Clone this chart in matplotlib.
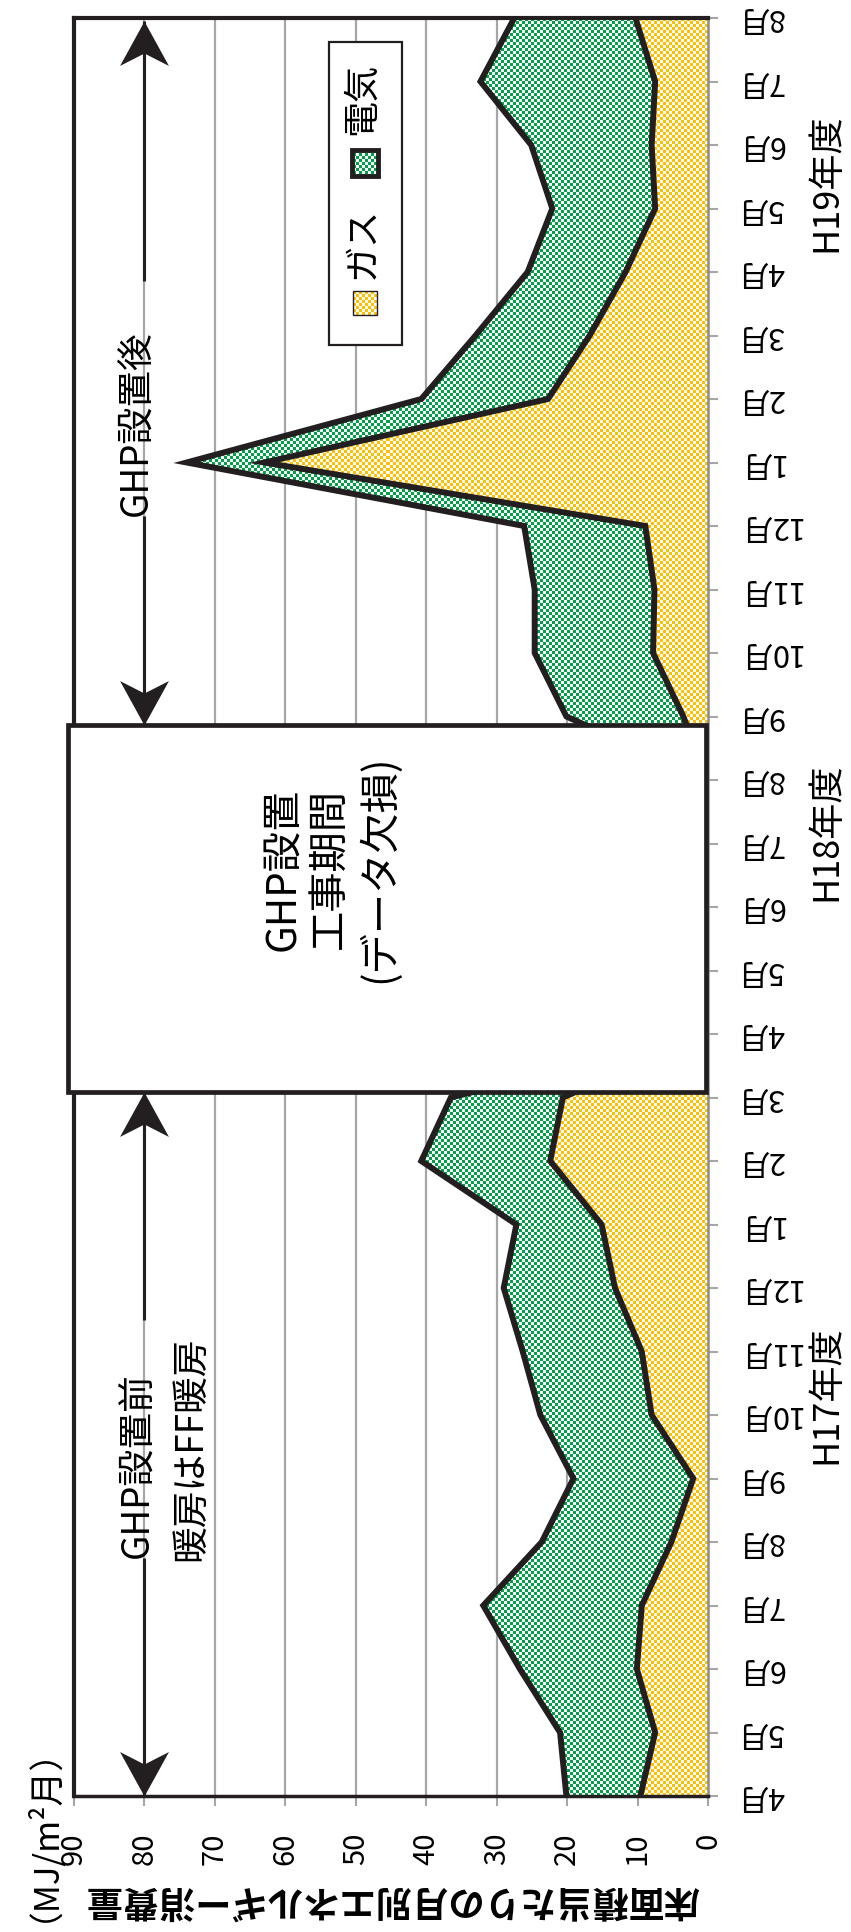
import numpy as np
import matplotlib
matplotlib.use('Agg')
import matplotlib.pyplot as plt
from matplotlib.colors import to_rgb
from matplotlib.patches import Rectangle
from matplotlib.path import Path

plt.rcParams['font.family'] = ['Noto Sans CJK JP', 'DejaVu Sans']

# monthly energy use per floor area (MJ/m2 month), H17 Apr .. H19 Aug
months = ['4月', '5月', '6月', '7月', '8月', '9月', '10月', '11月', '12月', '1月', '2月', '3月',
          '4月', '5月', '6月', '7月', '8月', '9月', '10月', '11月', '12月', '1月', '2月', '3月',
          '4月', '5月', '6月', '7月', '8月']
# H18 Apr-Aug: construction period, no data (None)
gas = [9.6, 7.5, 10.1, 9.4, 5.2, 2.1, 8.0, 9.4, 13.2, 15.1, 22.4, 20.6,
       None, None, None, None, None, 3.5, 7.8, 7.6, 8.9, 63.0, 22.7, 16.8,
       11.7, 7.5, 8.0, 7.5, 10.3]
elec = [10.5, 13.5, 16.6, 22.5, 18.4, 17.0, 15.8, 16.9, 15.8, 12.1, 18.3, 15.9,
        None, None, None, None, None, 16.6, 16.8, 17.0, 17.2, 11.0, 18.0, 16.2,
        13.9, 14.6, 17.1, 24.8, 17.2]
value_ticks = [0, 10, 20, 30, 40, 50, 60, 70, 80, 90]
year_labels = ['H17年度', 'H18年度', 'H19年度']
series_names = ['ガス', '電気']
green = '#00A046'
yellow = '#FFBE00'
dark = '#231F20'
grey = '#A6A6A6'

W, H = 851, 1932
fig = plt.figure(figsize=(W / 100, H / 100), dpi=100)
ax = fig.add_axes([74 / W, 1 - 1796 / H, (708 - 74) / W, (1796 - 18) / H])

idx = np.arange(len(months))
g = np.array([0 if v is None else v for v in gas])
e = np.array([0 if v is None else v for v in elec])
total = g + e


def checker(color, clip, transform=None):
    ny, nx = 593, 211
    jj, ii = np.meshgrid(np.arange(nx), np.arange(ny))
    rgb = np.ones((ny, nx, 3))
    rgb[(ii + jj) % 2 == 0] = to_rgb(color)
    im = ax.imshow(rgb, extent=(0, 90, 0, 28), origin='lower', aspect='auto',
                   interpolation='nearest', zorder=2)
    if transform is None:
        im.set_clip_path(clip)
    else:
        im.set_clip_path(clip, transform)
    return im


gas_area = ax.fill_betweenx(idx, 0, g, facecolor='none', edgecolor='none')
elec_area = ax.fill_betweenx(idx, g, total, facecolor='none', edgecolor='none')
checker(yellow, gas_area.get_paths()[0], ax.transData)
checker(green, elec_area.get_paths()[0], ax.transData)
ax.plot(g, idx, color=dark, lw=4.3, zorder=3, solid_joinstyle='miter')
ax.plot(total, idx, color=dark, lw=4.3, zorder=3, solid_joinstyle='miter')

ax.set_xlim(90, 0)
ax.set_ylim(0, len(months) - 1)
ax.set_xticks(value_ticks)
ax.set_xticklabels([str(v) for v in value_ticks])
ax.yaxis.tick_right()
ax.set_yticks(idx)
ax.set_yticklabels(months)
ax.grid(axis='x', color=grey, lw=1.6)
ax.set_axisbelow(True)
ax.tick_params(axis='x', direction='out', length=7.5, width=1.5, color=grey,
               labelsize=21, labelrotation=90, pad=19)
ax.tick_params(axis='y', direction='out', length=7.5, width=1.5, color=grey,
               labelsize=22, labelrotation=180, pad=13)
for t in ax.get_yticklabels():
    t.set_va('center')
for s in ['left', 'top']:
    ax.spines[s].set_color(dark)
    ax.spines[s].set_linewidth(3)
ax.spines['bottom'].set_color(dark)
ax.spines['bottom'].set_linewidth(2.5)
ax.spines['right'].set_color('#8C8C8C')
ax.spines['right'].set_linewidth(1.8)

# construction period box
ax.add_patch(Rectangle((0.3, 11.09), 90.6, 5.78, facecolor='white', edgecolor=dark,
                       lw=3.4, zorder=5, clip_on=False))
ax.text(53.5, 14.6, 'GHP設置\n工事期間\n(データ欠損)', rotation=90, ha='center', va='center',
        fontsize=29, linespacing=1.22, zorder=6)

# notched (stealth) arrow heads, tip at the marker point
head_up = Path([(0, 0), (-0.55, -1), (0, -0.72), (0.55, -1), (0, 0)],
               [Path.MOVETO, Path.LINETO, Path.LINETO, Path.LINETO, Path.CLOSEPOLY])
head_down = Path([(0, 0), (-0.55, 1), (0, 0.72), (0.55, 1), (0, 0)],
                 [Path.MOVETO, Path.LINETO, Path.LINETO, Path.LINETO, Path.CLOSEPOLY])


def arrow(y0, y1):
    ax.plot([80, 80], [y0, y1], color=dark, lw=2.2, zorder=4, clip_on=False,
            solid_capstyle='butt')
    ax.plot([80], [y1], marker=head_up if y1 > y0 else head_down, ms=64, mew=0,
            color=dark, zorder=4, clip_on=False)


# before GHP
arrow(3.75, 0)
arrow(7.5, 11.09)
ax.text(81, 3.75, 'GHP設置前', rotation=90, ha='center', va='bottom', fontsize=26.5, zorder=4)
ax.text(73.4, 3.7, '暖房はFF暖房', rotation=90, ha='center', va='bottom', fontsize=26.5, zorder=4)
# after GHP
arrow(20.15, 16.87)
arrow(23.86, 27.95)
ax.text(81, 20.15, 'GHP設置後', rotation=90, ha='center', va='bottom', fontsize=26.5, zorder=4)


# legend drawn by hand (rotated layout)
def axf(px, py):
    return (px - 74) / 634, (1796 - py) / 1778


lx0, ly1 = axf(329, 42)
lx1, ly0 = axf(402, 345)
ax.add_patch(Rectangle((lx0, ly0), lx1 - lx0, ly1 - ly0, transform=ax.transAxes,
                       facecolor='white', edgecolor=dark, lw=1.6, zorder=6))
for name, color, py_patch, py_text, size, lw in [(series_names[0], yellow, 303, 243, 24, 1.0),
                                                   (series_names[1], green, 163, 99, 26, 3.5)]:
    cx, cy = axf(365, py_patch)
    w, h = size / 634, size / 1778
    ax.add_patch(Rectangle((cx - w / 2, cy - h / 2), w, h, transform=ax.transAxes,
                           facecolor='none', edgecolor=dark, lw=lw, zorder=8))
    clip = Rectangle((cx - w / 2, cy - h / 2), w, h, transform=ax.transAxes)
    ax.add_artist(clip)
    clip.set_visible(False)
    checker(color, clip).set_zorder(7)
    tx, ty = axf(362, py_text)
    ax.text(tx, ty, name, transform=ax.transAxes, rotation=90, ha='center', va='center',
            fontsize=26, zorder=8)

# axis titles and fiscal year labels
fig.text(392 / W, 1 - 1900 / H, '床面積当たりの月別エネルギー消費量', rotation=180,
         ha='center', va='center', fontsize=26, fontweight='bold')
fig.text(25 / W, 1 - 1816 / H, '（MJ/m²月）', rotation=90, ha='center', va='center', fontsize=25)
for label, py in zip(year_labels, [1395, 832, 183]):
    fig.text(826 / W, 1 - py / H, label, rotation=90, ha='center', va='center', fontsize=26)

fig.savefig('out.png', dpi=100)
